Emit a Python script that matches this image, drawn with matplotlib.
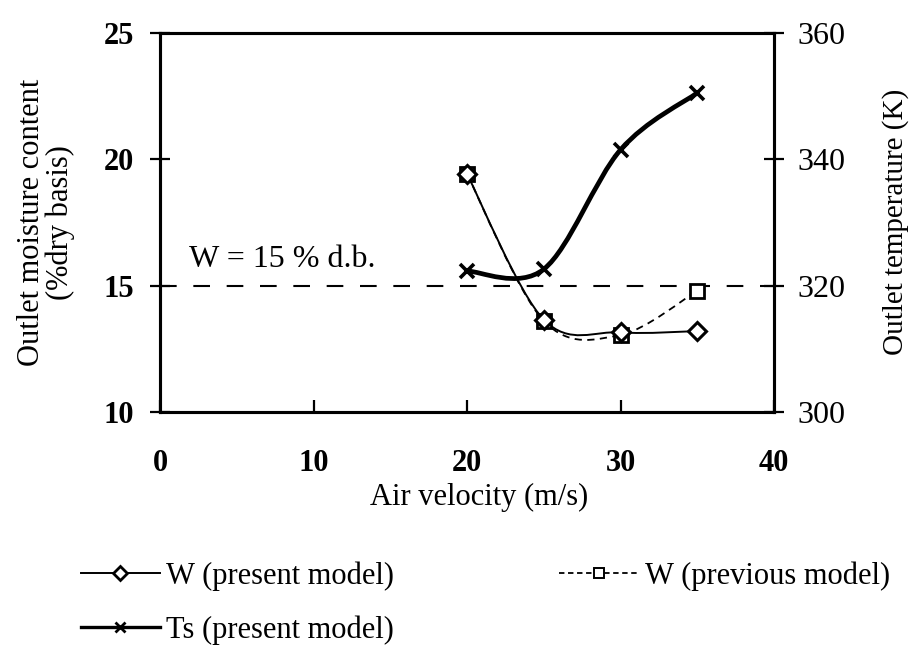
import matplotlib.pyplot as plt
import numpy as np
from matplotlib.path import Path
from matplotlib.patches import PathPatch
from matplotlib.lines import Line2D

plt.rcParams['font.family'] = ['Liberation Serif', 'DejaVu Serif']

# Data
velocity = [20, 25, 30, 35]
w_present = [19.4, 13.65, 13.15, 13.2]
w_previous = [19.4, 13.6, 13.05, 14.8]
ts_present = [322.3, 322.6, 341.5, 350.5]
w_limit = 15


def smooth_path(xs, ys):
    # Excel-like smoothed line: cubic Bezier through every point
    pts = np.column_stack([xs, ys]).astype(float)
    ext = np.vstack([pts[0], pts, pts[-1]])
    verts = [pts[0]]
    codes = [Path.MOVETO]
    for i in range(len(pts) - 1):
        p0, p1, p2, p3 = ext[i], ext[i + 1], ext[i + 2], ext[i + 3]
        verts += [p1 + (p2 - p0) / 6, p2 - (p3 - p1) / 6, p2]
        codes += [Path.CURVE4] * 3
    return Path(verts, codes)


fig = plt.figure(figsize=(9.15, 6.55), dpi=100)
ax = fig.add_axes([0.175, 0.371, 0.671, 0.579])
ax2 = ax.twinx()

# W present model
ax.add_patch(PathPatch(smooth_path(velocity, w_present), fill=False,
                       lw=1.4, edgecolor='black', zorder=3))
ax.plot(velocity, w_present, ls='none', marker='D', ms=9, mfc='white',
        mec='black', mew=2.2, zorder=5)

# W previous model
ax.add_patch(PathPatch(smooth_path(velocity, w_previous), fill=False,
                       lw=1.3, edgecolor='black', ls=(0, (4, 3)), zorder=3))
ax.plot(velocity, w_previous, ls='none', marker='s', ms=9.5, mfc='white',
        mec='black', mew=2, zorder=4)

# limit line
ax.axhline(w_limit, color='black', lw=1.5, ls=(0, (8, 8)), zorder=2)
ax.text(1.9, 15.72, 'W = 15 % d.b.', fontsize=23, ha='left', va='baseline')

# Ts present model
ax2.add_patch(PathPatch(smooth_path(velocity, ts_present), fill=False,
                        lw=3.4, edgecolor='black', zorder=3))
ax2.plot(velocity, ts_present, ls='none', marker='x', ms=10, mec='black',
         mew=2.6, zorder=5)

ax.set_xlim(0, 40)
ax.set_ylim(10, 25)
ax2.set_ylim(300, 360)
ax.set_xticks([0, 10, 20, 30, 40])
ax.set_yticks([10, 15, 20, 25])
ax2.set_yticks([300, 320, 340, 360])

for a in (ax, ax2):
    for s in a.spines.values():
        s.set_linewidth(2.2)
ax.tick_params(axis='y', direction='inout', length=14, width=1.6,
               labelsize=22, pad=12)
ax.tick_params(axis='x', direction='in', length=9, width=1.6,
               labelsize=22, pad=27)
ax2.tick_params(axis='y', direction='inout', length=14, width=1.6,
                labelsize=23, pad=9.5)
for lab in ax.get_xticklabels() + ax.get_yticklabels():
    lab.set_fontweight('bold')

ax.set_xlabel('Air velocity (m/s)', fontsize=22, labelpad=3)
ax.xaxis.label.set_x(0.52)
ax.set_ylabel('Outlet moisture content\n(%dry basis)', fontsize=22,
              labelpad=20, linespacing=1.0)
ax2.set_ylabel('Outlet temperature (K)', fontsize=21, labelpad=27)

handles = [
    Line2D([], [], color='black', lw=1.4, marker='D', ms=7, mfc='white',
           mec='black', mew=2),
    Line2D([], [], color='black', lw=2.4, marker='x', ms=7, mew=2),
    Line2D([], [], color='black', lw=1.3, ls=(0, (3, 2)), marker='s', ms=7,
           mfc='white', mec='black', mew=1.4),
]
labels = ['W (present model)', 'Ts (present model)', 'W (previous model)']
fig.legend(handles, labels, loc='lower left', bbox_to_anchor=(0.058, -0.026),
           ncol=2, frameon=False, fontsize=22, handlelength=2.6,
           handletextpad=0.2, columnspacing=5.4, labelspacing=0.8)

fig.savefig('out.png', dpi=100)
